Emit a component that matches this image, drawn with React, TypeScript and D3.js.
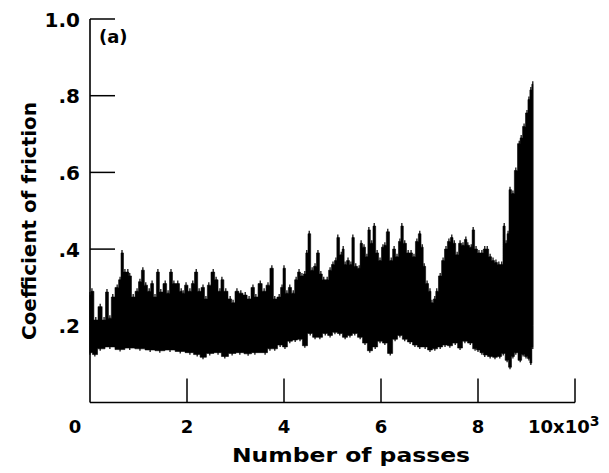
import React from "react";
import * as d3 from "d3";

// Number of passes (x10^3) and upper envelope of the friction trace
const upperX = [0.00,0.04,0.12,0.21,0.29,0.35,0.41,0.47,0.56,0.62,0.66,0.72,0.78,0.82,0.89,0.97,1.03,1.09,1.15,1.22,1.28,1.34,1.40,1.46,1.55,1.61,1.67,1.73,1.81,1.88,1.92,1.98,2.06,2.12,2.19,2.25,2.33,2.39,2.45,2.54,2.60,2.68,2.72,2.80,2.89,2.95,3.03,3.11,3.20,3.28,3.36,3.42,3.51,3.59,3.67,3.75,3.81,3.90,3.96,4.00,4.06,4.12,4.19,4.25,4.31,4.37,4.43,4.47,4.52,4.58,4.64,4.70,4.76,4.82,4.89,4.95,5.01,5.07,5.11,5.18,5.22,5.26,5.32,5.38,5.42,5.48,5.55,5.59,5.65,5.71,5.75,5.81,5.86,5.92,5.98,6.04,6.08,6.14,6.21,6.27,6.33,6.39,6.43,6.49,6.56,6.62,6.68,6.74,6.80,6.85,6.89,6.95,7.01,7.05,7.11,7.15,7.22,7.28,7.34,7.40,7.46,7.51,7.57,7.63,7.69,7.75,7.79,7.86,7.90,7.96,8.02,8.08,8.14,8.19,8.25,8.31,8.37,8.43,8.49,8.54,8.58,8.62,8.66,8.72,8.78,8.85,8.89,8.95,9.01,9.05,9.09,9.13];
const upperY = [0.28,0.29,0.215,0.25,0.215,0.288,0.22,0.275,0.30,0.32,0.39,0.34,0.34,0.33,0.275,0.29,0.315,0.345,0.306,0.29,0.31,0.275,0.34,0.288,0.31,0.285,0.34,0.31,0.31,0.29,0.285,0.306,0.29,0.31,0.34,0.29,0.30,0.27,0.306,0.34,0.32,0.29,0.32,0.29,0.27,0.26,0.29,0.285,0.28,0.27,0.30,0.275,0.31,0.29,0.306,0.35,0.27,0.275,0.30,0.35,0.285,0.30,0.285,0.32,0.34,0.33,0.335,0.39,0.44,0.345,0.355,0.39,0.335,0.32,0.32,0.345,0.36,0.37,0.43,0.385,0.40,0.36,0.37,0.36,0.43,0.355,0.35,0.415,0.405,0.38,0.45,0.415,0.46,0.39,0.37,0.405,0.41,0.445,0.37,0.40,0.38,0.42,0.46,0.415,0.39,0.39,0.38,0.42,0.44,0.405,0.355,0.31,0.29,0.26,0.27,0.29,0.33,0.37,0.40,0.42,0.43,0.415,0.385,0.415,0.41,0.425,0.41,0.405,0.45,0.40,0.39,0.39,0.40,0.40,0.38,0.37,0.365,0.36,0.36,0.46,0.415,0.44,0.555,0.545,0.605,0.675,0.69,0.72,0.755,0.79,0.815,0.83];

// Lower envelope of the friction trace
const lowerX = [0.00,0.10,0.21,0.41,0.62,0.82,1.03,1.24,1.44,1.65,1.86,2.06,2.21,2.33,2.47,2.64,2.78,2.93,3.09,3.26,3.40,3.61,3.71,3.81,3.92,4.02,4.12,4.23,4.33,4.43,4.54,4.64,4.74,4.85,4.95,5.05,5.15,5.26,5.36,5.46,5.57,5.67,5.77,5.88,5.98,6.08,6.19,6.29,6.39,6.49,6.60,6.70,6.80,6.91,7.01,7.11,7.22,7.32,7.42,7.53,7.63,7.73,7.84,7.94,8.00,8.08,8.14,8.25,8.35,8.45,8.52,8.60,8.66,8.72,8.78,8.87,8.93,8.99,9.05,9.09,9.13];
const lowerY = [0.13,0.125,0.14,0.145,0.138,0.142,0.14,0.137,0.135,0.137,0.133,0.13,0.125,0.118,0.128,0.13,0.12,0.128,0.13,0.127,0.13,0.13,0.14,0.14,0.15,0.145,0.16,0.163,0.165,0.148,0.18,0.17,0.17,0.18,0.175,0.183,0.18,0.17,0.175,0.18,0.17,0.155,0.135,0.145,0.16,0.155,0.128,0.165,0.175,0.165,0.158,0.15,0.145,0.145,0.137,0.14,0.145,0.15,0.148,0.155,0.142,0.16,0.155,0.14,0.137,0.13,0.124,0.12,0.118,0.12,0.128,0.11,0.092,0.12,0.13,0.11,0.125,0.12,0.115,0.103,0.145];

const yTicks = [0.2, 0.4, 0.6, 0.8, 1.0];
const yTickLabels = [".2", ".4", ".6", ".8", "1.0"];
const xTicks = [0, 2, 4, 6, 8, 10];
const xTickLabels = ["0", "2", "4", "6", "8", "10x10"];

const W = 609, H = 473;
const FONT = "'DejaVu Sans', sans-serif";

export default function App() {
  const x = d3.scaleLinear().domain([0, 10]).range([90, 575]);
  const y = d3.scaleLinear().domain([0, 1]).range([402.5, 19]);

  const upper = upperX.map((v, i) => [v, upperY[i]] as [number, number]);
  const lower = lowerX.map((v, i) => [v, lowerY[i]] as [number, number]);
  const lineStep = d3.line<[number, number]>().x((d) => x(d[0])).y((d) => y(d[1])).curve(d3.curveStep);
  const pu = lineStep(upper) as string;
  const pl = (lineStep(lower.slice().reverse()) as string).replace(/^M/, "L");
  const d = pu + pl + "Z";

  const x0 = x(0), yb = y(0);

  return (
    <div style={{ position: "absolute", left: 0, top: 0 }}>
      <svg width={W} height={H} style={{ display: "block", background: "#fff" }}>
        <path d={d} fill="#000" stroke="#000" strokeWidth={0.6} />
        {upper.map((p, i) => (
          <line key={"s" + i} x1={x(p[0])} x2={x(p[0])} y1={y(p[1]) - 3} y2={y(0.2)} stroke="#000" strokeWidth={1.2} />
        ))}
        {lower.map((p, i) => (
          <line key={"l" + i} x1={x(p[0])} x2={x(p[0])} y1={y(p[1]) + 2} y2={y(0.2)} stroke="#000" strokeWidth={1.2} />
        ))}
        {/* axes */}
        <line x1={x0} x2={x0} y1={y(1)} y2={yb} stroke="#000" strokeWidth={1.6} />
        <line x1={x0} x2={x(10)} y1={yb} y2={yb} stroke="#000" strokeWidth={1.6} />
        {yTicks.map((t, i) => (
          <g key={"yt" + i}>
            <line x1={x0} x2={x0 + 25} y1={y(t)} y2={y(t)} stroke="#000" strokeWidth={1.5} />
            <text x={80} y={y(t) + 7.5} textAnchor="end" fontFamily={FONT} fontWeight="bold" fontSize={20} fill="#000">
              {yTickLabels[i]}
            </text>
          </g>
        ))}
        {xTicks.map((t, i) => (
          <g key={"xt" + i}>
            {i > 0 && <line x1={x(t)} x2={x(t)} y1={yb} y2={yb - 24} stroke="#000" strokeWidth={1.5} />}
            {i === xTicks.length - 1 ? (
              <text x={x(t) - 47} y={433} textAnchor="start" fontFamily={FONT} fontWeight="bold" fontSize={18} fill="#000">
                {xTickLabels[i]}
                <tspan dy={-7} fontSize={14}>3</tspan>
              </text>
            ) : (
              <text x={i === 0 ? x(t) - 15 : x(t)} y={433} textAnchor="middle" fontFamily={FONT} fontWeight="bold" fontSize={18} fill="#000">
                {xTickLabels[i]}
              </text>
            )}
          </g>
        ))}
        <text x={99} y={43} fontFamily={FONT} fontWeight="bold" fontSize={18} fill="#000">(a)</text>
        <text x={232} y={462} textLength={238} lengthAdjust="spacingAndGlyphs" fontFamily={FONT} fontWeight="bold" fontSize={19} fill="#000">
          Number of passes
        </text>
        <text transform="translate(36,340) rotate(-90)" x={0} y={0} textLength={238} lengthAdjust="spacingAndGlyphs" fontFamily={FONT} fontWeight="bold" fontSize={20} fill="#000">
          Coefficient of friction
        </text>
      </svg>
    </div>
  );
}
